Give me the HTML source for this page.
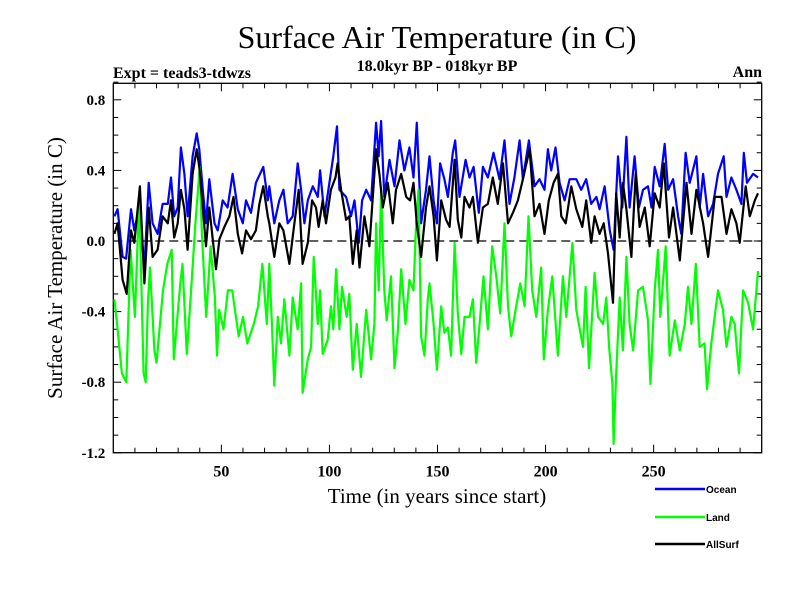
<!DOCTYPE html>
<html><head><meta charset="utf-8"><style>
html,body{margin:0;padding:0;background:#fff;}
svg{display:block;}
</style></head><body>
<svg id="chart" width="800" height="600" xmlns="http://www.w3.org/2000/svg" font-family="Liberation Serif, serif">
<text x="437" y="48" font-size="32" text-anchor="middle">Surface Air Temperature (in C)</text>
<text x="437" y="71" font-size="16" font-weight="bold" text-anchor="middle">18.0kyr BP - 018kyr BP</text>
<text x="113" y="78" font-size="16" font-weight="bold">Expt = teads3-tdwzs</text>
<text x="762" y="77" font-size="16" font-weight="bold" text-anchor="end">Ann</text>
<text x="0" y="0" font-size="21" text-anchor="middle" transform="translate(62,268) rotate(-90)">Surface Air Temperature (in C)</text>
<text x="437" y="503" font-size="21" text-anchor="middle">Time (in years since start)</text>
<g id="axes"></g>
<g id="series"></g>
<g id="legend" font-family="Liberation Sans, sans-serif" font-size="10" font-weight="bold"></g>
</svg>
<script>
const oceanYears=[0.5,2,4.3,5.9,8.2,9.7,12,14.4,16.4,18.2,20.5,22.8,25.2,26.7,28.2,29.8,31.3,32.9,34.4,36.7,38.6,39.8,41.4,42.9,44.4,46.8,48.3,50.6,52.9,55.2,57.6,59.9,61.4,63.7,66,69.4,71.5,
72.2,74.5,76.8,78.7,80.7,83,85.3,86.9,88.4,90,92.3,94.6,95.7,97.7,100,101.8,103.5,104.6,107.7,110,111.6,113.6,115.1,117,119.3,121.6,122.8,123.9,125.4,127.8,130.1,132.4,134.7,137,138.9,140.4,142.4,144.7,
146.3,148.2,149.7,151.2,153.2,154.8,157.1,158.2,160.2,163,164.8,166.7,169.1,171,173.3,175.9,178.7,181,183.3,185.6,188,189.5,192.3,194.9,197.2,199.5,201.1,202.6,204.6,206.5,208.8,211.1,214.2,216.5,218.8,
221.1,223.5,225,227.3,229.7,231.5,233.5,235.5,237.4,238.9,241.2,243.2,245.1,247.4,249,250.5,252.8,255.1,256.7,259,261.3,262.8,264.8,266.7,269.8,271.3,272.9,275.2,277.5,279.8,282.4,283.7,286,288.3,290.6,291.7,293.2,296,298.3];
const oceanVals=[0.14,0.18,-0.09,-0.1,0.18,0.06,0.19,-0.15,0.33,0.1,0.04,0.21,0.21,0.36,0.14,0.19,0.53,0.38,0.14,0.48,0.61,0.52,0.29,0.1,0.35,0.1,0.06,0.23,0.19,0.38,0.18,0.1,0.23,0.16,0.33,0.42,0.23,
0.31,0.1,0.23,0.29,0.1,0.14,0.44,0.29,0.1,0.23,0.31,0.25,0.4,0.14,0.33,0.48,0.65,0.29,0.25,0.14,0.23,-0.01,0.23,0.29,0.23,0.67,0.48,0.68,0.25,0.46,0.31,0.57,0.4,0.53,0.36,0.67,0.1,0.29,
0.48,0.23,0.1,0.44,0.35,0.25,0.5,0.57,0.25,0.46,0.36,0.42,0.16,0.42,0.36,0.5,0.35,0.57,0.21,0.36,0.57,0.35,0.57,0.31,0.35,0.29,0.52,0.4,0.53,0.33,0.23,0.35,0.35,0.29,0.35,
0.21,0.25,0.18,0.31,0.06,-0.05,0.48,0.19,0.59,0.19,0.48,0.19,0.29,0.31,0.19,0.42,0.31,0.55,0.29,0.35,0.14,0.04,0.5,0.33,0.48,0.19,0.38,0.14,0.21,0.38,0.48,0.25,0.36,0.29,0.21,0.5,0.33,0.38,0.36];
const landYears=[0.5,2,4,6,8,10,12,14,15,16,17,19,20,23,25,27,28,31,32,34,36,38,40,41,43,45,47,48,49,51,53,55,58,60,62,65,67,69,71,
72.2,73.4,74.5,76.1,77.6,79.1,81.5,83,85.3,86.9,87.6,90,91.5,92.7,94.6,95.7,96.9,99.2,100.7,101.8,103.1,104.6,105.8,108,109.2,110.8,112.6,114.6,117,119.3,120.8,121.6,122.8,123.9,125.4,126.5,128.5,130.1,131.6,133.2,135.2,137,138.9,140.1,141.2,142.4,144,145.5,
146.3,148.2,149.7,151.7,153.2,154.8,156.3,157.9,159.4,161,162.5,164.8,166.4,167.9,169.5,171.3,173.3,175.3,177.2,179,181,182.6,184.1,186.4,188.3,190.3,192.1,193.8,195.7,198,199.2,201.1,203.1,205.7,208,209.6,212.4,214.2,217.3,218.5,220.1,
222.7,224.3,226.6,228.1,229.4,230.9,231.5,232.7,234.3,235.8,237.4,238.9,240.5,242.8,245.1,247.4,248.5,250.5,252,253.1,255.6,257.4,259.8,262.1,264.4,265.9,267.5,269.5,271.3,273.6,274.7,276.7,279.8,282.1,283.7,286,287.5,289.5,291.4,293.7,296,298.3];
const landVals=[-0.33,-0.5,-0.75,-0.8,-0.05,-0.43,0.25,-0.75,-0.8,-0.35,-0.15,-0.62,-0.69,-0.28,-0.13,-0.05,-0.67,-0.24,-0.13,-0.64,-0.28,0.1,0.42,0.04,-0.43,-0.03,-0.32,-0.65,-0.39,-0.5,-0.28,-0.28,-0.54,-0.43,-0.58,-0.47,-0.37,-0.13,-0.47,
-0.13,-0.47,-0.82,-0.43,-0.58,-0.33,-0.65,-0.32,-0.5,-0.24,-0.86,-0.67,-0.6,-0.09,-0.47,-0.28,-0.64,-0.56,-0.37,-0.5,-0.16,-0.5,-0.26,-0.43,-0.3,-0.73,-0.47,-0.77,-0.39,-0.67,-0.47,0.1,-0.28,0.29,-0.28,-0.45,-0.2,-0.72,-0.52,-0.16,-0.47,-0.22,-0.28,0.1,0.29,-0.54,-0.65,-0.33,
-0.24,-0.47,-0.73,-0.37,-0.52,-0.49,-0.65,-0.01,-0.41,-0.64,-0.43,-0.43,-0.33,-0.69,-0.47,-0.2,-0.5,-0.03,-0.2,-0.41,0.1,-0.37,-0.54,-0.37,-0.24,-0.37,0.14,-0.28,-0.43,-0.15,-0.67,-0.39,-0.2,-0.65,-0.2,-0.43,-0.01,-0.39,-0.6,-0.26,-0.72,
-0.18,-0.43,-0.47,-0.32,-0.6,-0.81,-1.15,-0.75,-0.32,-0.62,-0.09,-0.47,-0.62,-0.28,-0.26,-0.45,-0.81,-0.28,-0.05,-0.43,-0.03,-0.65,-0.45,-0.62,-0.47,-0.26,-0.47,-0.13,-0.6,-0.58,-0.84,-0.58,-0.28,-0.39,-0.6,-0.43,-0.47,-0.75,-0.28,-0.35,-0.5,-0.17];
const allYears=[0.5,2,4.3,6.2,8.2,9.7,12.3,14.4,16.4,18.2,20.5,22.8,25.2,26.7,28.2,29.8,31.3,32.9,34.4,36.7,38.6,39.8,41.4,42.9,44.4,47.5,49.1,51.4,53.7,55.6,57.6,59.6,61.4,63.7,66,67.6,69.4,71.5,
72.2,74.5,76.8,78.7,81.5,83.8,85.8,87.6,90,92,93.8,95,96.9,98.4,100.7,102.8,103.8,105.4,107.7,109.2,110.8,112.6,113.9,116.2,118.5,121.6,123.1,124.7,127,129.3,130.8,133.2,135.5,137.3,138.9,140.4,142.4,144.7,
146.3,148.2,149.7,151.7,154,155.6,157.9,159.4,161,162.5,164.8,166.4,168.7,171,173.3,175.6,177.9,180.3,182.6,184.9,187.2,189.5,192.6,194.9,197.2,199.5,201.5,203.7,205.7,207.3,209.3,211.9,214.2,217,218.8,
221.1,222.7,225,226.9,228.9,231.2,232.7,234.3,235.8,237.4,239.7,241.7,243.5,245.9,248.2,250.5,252.8,254.7,257.1,259,262.1,265.2,267.5,269.8,272.9,275.2,278.3,281.4,283.7,286,288.3,289.8,292.6,294.5,296.8,298.3];
const allVals=[0.04,0.1,-0.22,-0.3,0.06,-0.01,0.31,-0.24,0.19,-0.09,-0.05,0.14,0.1,0.23,0.02,0.1,0.29,0.18,-0.05,0.38,0.52,0.42,0.19,-0.03,0.19,-0.16,0.01,0.08,0.14,0.25,0.04,-0.07,0.06,0.01,0.06,0.21,0.31,0.14,
0.1,-0.09,0.1,0.06,-0.13,0.1,0.29,-0.13,-0.01,0.23,0.19,0.08,0.23,0.1,0.29,0.36,0.44,0.29,0.12,0.14,-0.13,0.06,-0.15,0.14,-0.03,0.52,0.38,0.19,0.33,0.1,0.29,0.38,0.25,0.23,0.33,0.1,-0.09,0.19,
0.31,0.14,-0.11,0.23,0.12,0.08,0.46,0.12,0.02,0.25,0.19,0.25,-0.01,0.19,0.21,0.36,0.21,0.44,0.1,0.16,0.23,0.35,0.52,0.14,0.21,0.04,0.23,0.33,0.38,0.14,0.1,0.31,0.18,0.08,0.23,
-0.01,0.14,0.04,0.1,-0.07,-0.35,0.27,0.02,0.33,0.18,-0.09,0.38,0.08,0.19,-0.03,0.27,0.19,0.44,0.02,0.19,-0.11,0.33,0.04,0.29,0.1,-0.09,0.25,0.25,0.04,0.18,0.1,-0.01,0.31,0.14,0.23,0.27];
const yTickVals=[0.8,0.4,0.0,-0.4,-0.8,-1.2];
const yTickLabels=["0.8","0.4","0.0","-0.4","-0.8","-1.2"];
const xTickVals=[50,100,150,200,250];
const xTickLabels=["50","100","150","200","250"];
const legendLabels=["Ocean","Land","AllSurf"];

const L=113.3,R=761.7,T=83.3,B=452.7;
const xMin=0,xMax=300;
const yZeroPix=241, yPer=176.5;
function sx(v){return L+(v-xMin)/(xMax-xMin)*(R-L);}
function sy(v){return yZeroPix-v*yPer;}
const NS="http://www.w3.org/2000/svg";
function mk(tag,attrs,parent){const e=document.createElementNS(NS,tag);for(const k in attrs)e.setAttribute(k,attrs[k]);parent.appendChild(e);return e;}
const axes=document.getElementById('axes');
const frame=mk('rect',{x:L,y:T,width:R-L,height:B-T,fill:'none',stroke:'#000','stroke-width':1.3},axes);


const zl=mk('line',{x1:L,x2:R,y1:sy(0),y2:sy(0),stroke:'#000','stroke-width':1.2,'stroke-dasharray':'9,5'},axes);


for(let v=10;v<300;v+=10){
  const major=v%50===0, len=major?8:5;
  const t1=mk('line',{x1:sx(v),x2:sx(v),y1:B,y2:B-len,stroke:'#000','stroke-width':1},axes);
  
  
  const t2=mk('line',{x1:sx(v),x2:sx(v),y1:T,y2:T+len,stroke:'#000','stroke-width':1},axes);
  
  
}
xTickVals.forEach((v,i)=>{
  const t=mk('text',{x:sx(v),y:B+24,'font-size':16,'font-weight':'bold','text-anchor':'middle'},axes);
  t.textContent=xTickLabels[i];
  
  
});
for(let k=-12;k<=9;k++){
  const v=k/10, major=(k%4===0), len=major?8:5;
  const t1=mk('line',{x1:L,x2:L+len,y1:sy(v),y2:sy(v),stroke:'#000','stroke-width':1},axes);
  
  
  const t2=mk('line',{x1:R,x2:R-len,y1:sy(v),y2:sy(v),stroke:'#000','stroke-width':1},axes);
  
  
}
yTickVals.forEach((v,i)=>{
  const t=mk('text',{x:L-8,y:sy(v)+5,'font-size':15,'font-weight':'bold','text-anchor':'end'},axes);
  t.textContent=yTickLabels[i];
  
  
});
const sg=document.getElementById('series');
function line(xs,ys,color,name){
  let d='';xs.forEach((x,i)=>{d+=(i?'L':'M')+sx(x).toFixed(1)+','+sy(ys[i]).toFixed(1);});
  const p=mk('path',{d:d,fill:'none',stroke:color,'stroke-width':2.2,'stroke-linejoin':'round'},sg);
  
  
}
line(oceanYears,oceanVals,'#0000ff','ocean-line');
line(landYears,landVals,'#00ff00','land-line');
line(allYears,allVals,'#000000','allsurf-line');
const lg=document.getElementById('legend');
const lcol=['#0000ff','#00ff00','#000000'], ly=[489,517,544];
legendLabels.forEach((lab,i)=>{
  const l=mk('line',{x1:655,x2:705,y1:ly[i],y2:ly[i],stroke:lcol[i],'stroke-width':2.5},lg);
  
  
  const t=mk('text',{x:706,y:ly[i]+4},lg);
  t.textContent=lab;
  
  
});
</script>
</body></html>
